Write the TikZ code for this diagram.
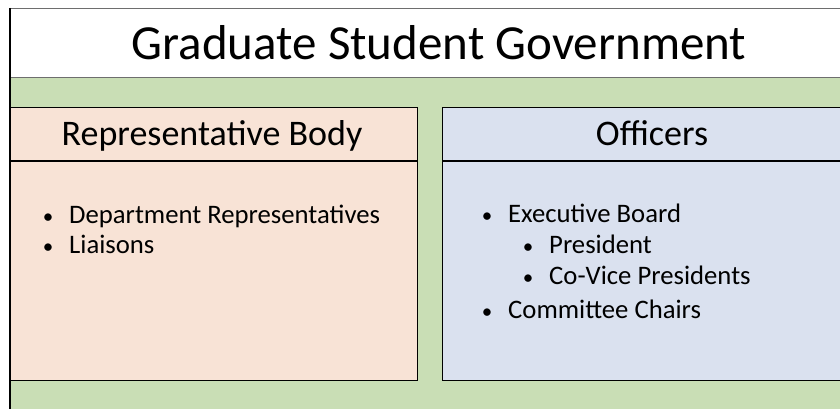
\documentclass[tikz,border=0pt]{standalone}
\usepackage{fontspec}
\setmainfont{Carlito}
\definecolor{bggreen}{HTML}{C9DEB5}
\definecolor{peach}{HTML}{F8E3D6}
\definecolor{paleblue}{HTML}{DAE1EF}
\definecolor{framegray}{HTML}{6E6E6E}
\begin{document}
\begin{tikzpicture}[x=1pt,y=-1pt,
  panel/.style={draw=black,line width=1.3pt,anchor=north west,inner sep=0pt},
  headtxt/.style={font=\fontsize{36}{40}\selectfont,anchor=base,inner sep=0pt},
  itemtxt/.style={font=\fontsize{26.7}{30}\selectfont,anchor=base west,inner sep=0pt},
  bul/.style={font=\fontsize{21}{24}\selectfont,anchor=base,inner sep=0pt}]
\useasboundingbox (0,0) rectangle (840,409);
\clip (0,0) rectangle (840,409);
% outer frame
\fill[bggreen] (10,77) rectangle (870,430);
\node[draw=framegray,line width=1.3pt,fill=white,anchor=north west,minimum width=880pt,minimum height=69pt,inner sep=0pt] (titlebox) at (10,8) {};
\draw[black,line width=1.3pt] (10,8) -- (10,420);
\node[font=\fontsize{49}{54}\selectfont,anchor=center] (title) at (439,43) {Graduate Student Government};
% left panel
\node[panel,fill=peach,minimum width=407pt,minimum height=273pt] (left) at (10,107) {};
\draw[line width=1.3pt] (10,161) coordinate (lh1) -- (417,161) coordinate (lh2);
\node[headtxt] (lhead) at (212,146) {Representative Body};
\node[bul] (lb1) at (48,223) {•};
\node[itemtxt] (li1) at (69,223) {Department Representatives};
\node[bul] (lb2) at (48,253) {•};
\node[itemtxt] (li2) at (69,253) {Liaisons};
% right panel
\node[panel,fill=paleblue,minimum width=420pt,minimum height=273pt] (right) at (442,107) {};
\draw[line width=1.3pt] (442,161) coordinate (rh1) -- (870,161) coordinate (rh2);
\node[headtxt] (rhead) at (652,146) {Officers};
\node[bul] (rb1) at (487,222) {•};
\node[itemtxt] (ri1) at (508,222) {Executive Board};
\node[bul] (rb2) at (528,253) {•};
\node[itemtxt] (ri2) at (549,253) {President};
\node[bul] (rb3) at (528,284) {•};
\node[itemtxt] (ri3) at (549,284) {Co-Vice Presidents};
\node[bul] (rb4) at (487,318) {•};
\node[itemtxt] (ri4) at (508,318) {Committee Chairs};
\end{tikzpicture}
\end{document}
